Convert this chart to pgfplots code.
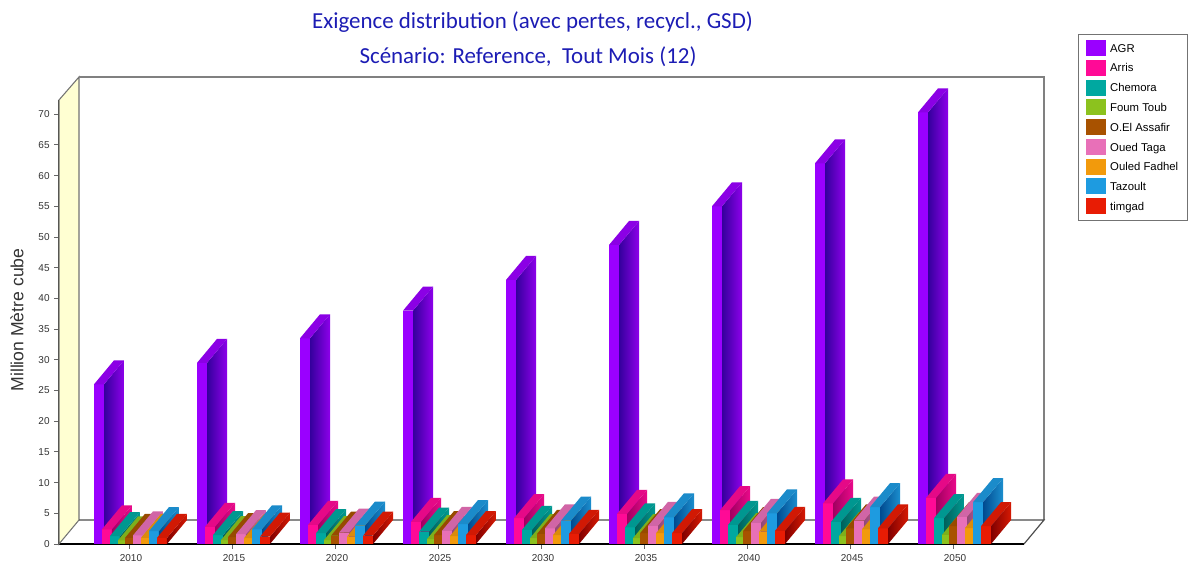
\documentclass[border=0pt]{standalone}
\usepackage{fontspec}
\usepackage{pgfplots}
\usepackage{pgfplotstable}
\pgfplotsset{compat=1.18}
\setmainfont{Liberation Sans}
\newfontfamily\titlefont{Carlito}

% face colours of each district
\definecolor{cAGR}{HTML}{9A00FF}
\definecolor{cArris}{HTML}{FF0A96}
\definecolor{cChemora}{HTML}{00A8A0}
\definecolor{cFoum}{HTML}{8CC21E}
\definecolor{cAssafir}{HTML}{A85200}
\definecolor{cTaga}{HTML}{E870B8}
\definecolor{cFadhel}{HTML}{F29A0C}
\definecolor{cTazoult}{HTML}{1E9BE0}
\definecolor{cTimgad}{HTML}{E81C04}
% shaded edge of the side faces
\definecolor{dAGR}{HTML}{34009C}
\definecolor{dArris}{HTML}{A00060}
\definecolor{dChemora}{HTML}{00605A}
\definecolor{dFoum}{HTML}{4A7000}
\definecolor{dAssafir}{HTML}{603000}
\definecolor{dTaga}{HTML}{904878}
\definecolor{dFadhel}{HTML}{905C00}
\definecolor{dTazoult}{HTML}{004A90}
\definecolor{dTimgad}{HTML}{800000}
\definecolor{titleblue}{HTML}{1C1CB4}
\definecolor{wallyellow}{HTML}{FFFFD2}

% Demand per district, million cubic metres
\pgfplotstableread{
year AGR Arris Chemora Foum Assafir Taga Fadhel Tazoult Timgad
2010 26.0 2.4 1.3 0.6 1.0 1.4 1.0 2.1 1.0
2015 29.5 2.8 1.45 0.65 1.1 1.6 0.95 2.4 1.2
2020 33.5 3.1 1.75 0.65 1.35 1.85 1.2 3.0 1.35
2025 38.0 3.6 2.0 0.8 1.45 2.15 1.3 3.25 1.45
2030 43.0 4.2 2.3 0.95 1.65 2.55 1.45 3.8 1.65
2035 48.7 4.9 2.7 0.95 1.75 2.95 1.75 4.35 1.75
2040 55.0 5.5 3.1 1.1 2.1 3.45 2.0 5.0 2.15
2045 62.0 6.6 3.6 1.3 2.55 3.8 2.4 6.0 2.55
2050 70.3 7.5 4.2 1.5 2.9 4.4 2.6 6.8 2.9
}\demand

\begin{document}
\begin{tikzpicture}[x=0.75pt,y=-0.75pt]
\useasboundingbox (-59,26) rectangle (1131,-544);
\begin{axis}[
  at={(0pt,0pt)}, anchor=south west,
  scale only axis, width=723.75pt, height=333pt,
  xmin=-0.6796, xmax=8.6893, ymin=0, ymax=72.31,
  clip=false,
  axis x line=bottom, axis y line=left,
  axis line style={line width=1.6pt,black,-},
  xtick={0,...,8},
  xticklabels={2010,2015,2020,2025,2030,2035,2040,2045,2050},
  ytick={0,5,...,70},
  tick align=outside, major tick length=3.5pt,
  tick style={line width=0.6pt,black!60},
  /pgf/number format/assume math mode=true,
  tick label style={font=\fontsize{7.5}{9}\selectfont,text=black!80},
  x tick label style={xshift=1.5pt,yshift=-1pt},
  legend style={at={(1.0560,1.1486)},anchor=north west,draw=black!55,
    line width=0.8pt,inner xsep=5.2pt,inner ysep=4.2pt,
    font=\fontsize{8.5}{9}\selectfont,
    /tikz/row sep=2.2pt},
  legend cell align=left,
  legend image code/.code={\path[#1,draw=none] (0pt,-5.2pt) rectangle (15pt,6.8pt);
    \path[draw=none,fill=none] (0pt,0pt) -- (16.5pt,0pt);},
]
% walls and floor behind the bars
\addplot[forget plot,draw=black!55,line width=0.8pt,fill=wallyellow]
  coordinates {(-0.6796,0)(-0.4854,3.909)(-0.4854,76.06)(-0.6796,72.31)} -- cycle;
\addplot[forget plot,draw=black!50,line width=1.1pt]
  coordinates {(-0.4854,76.06)(8.8835,76.06)(8.8835,3.909)};
\addplot[forget plot,draw=black!70,line width=0.9pt]
  coordinates {(-0.4854,3.909)(8.8835,3.909)(8.6893,0)};

% one bar per district and period: front, side and top faces,
% each bar ten units wide and partly hidden by its right neighbour
\foreach \c in {0,...,8}{
  \foreach \name/\lo in {AGR/-35,Arris/-27,Chemora/-19,Foum/-11,
      Assafir/-4,Taga/4,Fadhel/12,Tazoult/20,Timgad/28}{
    \pgfplotstablegetelem{\c}{\name}\of\demand
    \edef\v{\pgfplotsretval}
    \pgfmathsetmacro\xa{\c+\lo/103}
    \pgfmathsetmacro\xb{\c+(\lo+10)/103}
    \pgfmathsetmacro\xc{\xb+20/103}
    \pgfmathsetmacro\xd{\xa+20/103}
    \pgfmathsetmacro\vb{\v+3.909}
    \edef\drawbar{
      \noexpand\addplot[forget plot,draw=none,fill=c\name]
        coordinates {(\xa,0)(\xb,0)(\xb,\v)(\xa,\v)} -- cycle;
      \noexpand\addplot[forget plot,draw=none,left color=d\name,right color=c\name!92!black]
        coordinates {(\xb,0)(\xc,3.909)(\xc,\vb)(\xb,\v)} -- cycle;
      \noexpand\addplot[forget plot,draw=none,fill=c\name!90!black]
        coordinates {(\xa,\v)(\xb,\v)(\xc,\vb)(\xd,\vb)} -- cycle;
    }
    \drawbar
  }
}

\addlegendimage{fill=cAGR}\addlegendentry{AGR}
\addlegendimage{fill=cArris}\addlegendentry{Arris}
\addlegendimage{fill=cChemora}\addlegendentry{Chemora}
\addlegendimage{fill=cFoum}\addlegendentry{Foum Toub}
\addlegendimage{fill=cAssafir}\addlegendentry{O.El Assafir}
\addlegendimage{fill=cTaga}\addlegendentry{Oued Taga}
\addlegendimage{fill=cFadhel}\addlegendentry{Ouled Fadhel}
\addlegendimage{fill=cTazoult}\addlegendentry{Tazoult}
\addlegendimage{fill=cTimgad}\addlegendentry{timgad}
\end{axis}
\node[text=titleblue,font=\titlefont\fontsize{17.2}{18}\selectfont] at (473.5,-521.5) {Exigence distribution (avec pertes, recycl., GSD)};
\node[text=titleblue,font=\titlefont\fontsize{17.2}{18}\selectfont] at (469,-487) {Scénario: Reference,\ \ Tout Mois (12)};
\node[rotate=90,text=black!80,font=\fontsize{13.2}{15}\selectfont] at (-42,-224) {Million Mètre cube};
\end{tikzpicture}
\end{document}
